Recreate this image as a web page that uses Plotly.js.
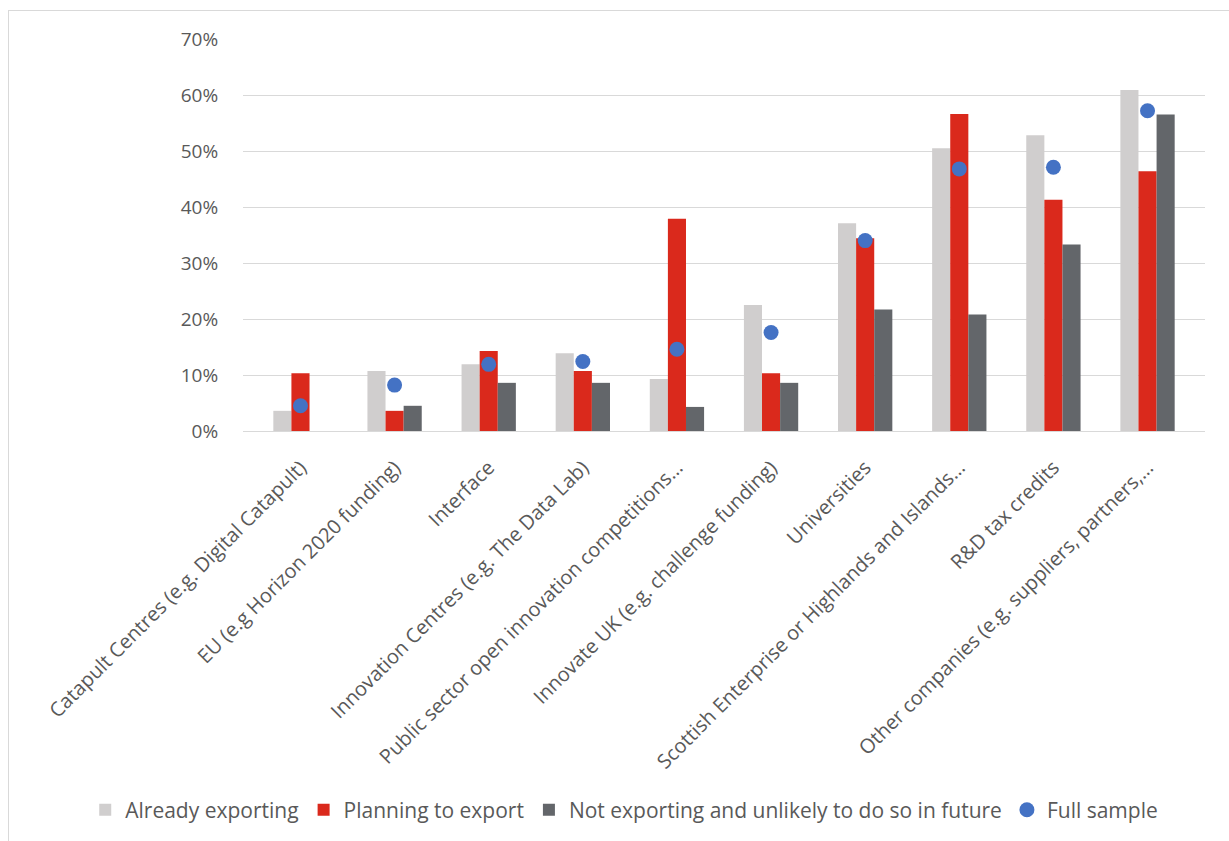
<!DOCTYPE html>
<html>
<head>
<meta charset="utf-8">
<script src="https://cdn.plot.ly/plotly-3.0.1.min.js"></script>
<style>
  html, body { margin: 0; padding: 0; background: #ffffff; }
  #frame { position: absolute; left: 8px; top: 10px; width: 1300px; height: 900px;
           border-top: 1px solid #d9d9d9; border-left: 1px solid #d9d9d9; }
  #chart { position: absolute; left: 0; top: 0; width: 1229px; height: 841px; }
</style>
</head>
<body>
<div id="frame"></div>
<div id="chart"></div>
<script>
const categories = [
  "Catapult Centres (e.g. Digital Catapult)",
  "EU (e.g Horizon 2020 funding)",
  "Interface",
  "Innovation Centres (e.g. The Data Lab)",
  "Public sector open innovation competitions…",
  "Innovate UK (e.g. challenge funding)",
  "Universities",
  "Scottish Enterprise or Highlands and Islands…",
  "R&D tax credits",
  "Other companies (e.g. suppliers, partners,…"
];
const alreadyExporting = [0.036, 0.107, 0.119, 0.139, 0.093, 0.225, 0.371, 0.505, 0.528, 0.609];
const planningToExport = [0.103, 0.036, 0.143, 0.107, 0.379, 0.103, 0.344, 0.566, 0.413, 0.464];
const notExporting     = [0.000, 0.045, 0.086, 0.086, 0.043, 0.086, 0.217, 0.208, 0.333, 0.565];
const fullSample       = [0.045, 0.082, 0.119, 0.124, 0.146, 0.176, 0.340, 0.468, 0.471, 0.572];
const seriesNames = ["Already exporting", "Planning to export",
  "Not exporting and unlikely to do so in future", "Full sample"];

const FONT = "Open Sans, sans-serif";
const TXT = "#595959";

const traces = [
  { type: "bar", name: seriesNames[0], x: categories, y: alreadyExporting,
    marker: { color: "#d0cece" }, hoverinfo: "y" },
  { type: "bar", name: seriesNames[1], x: categories, y: planningToExport,
    marker: { color: "#da291c" }, hoverinfo: "y" },
  { type: "bar", name: seriesNames[2], x: categories, y: notExporting,
    marker: { color: "#63666a" }, hoverinfo: "y" },
  { type: "scatter", mode: "markers", name: seriesNames[3], x: categories, y: fullSample,
    marker: { color: "#4472c4", size: 15 }, hoverinfo: "y" }
];

const layout = {
  width: 1229, height: 841,
  paper_bgcolor: "rgba(0,0,0,0)", plot_bgcolor: "rgba(0,0,0,0)",
  margin: { l: 243, r: 24, t: 39, b: 409 },
  font: { family: FONT, color: TXT, size: 19 },
  barmode: "group", bargap: 0.423, bargroupgap: 0,
  showlegend: true,
  legend: { orientation: "h", x: -0.164, xanchor: "left", y: -0.962, yanchor: "middle",
            font: { family: FONT, size: 21, color: TXT }, traceorder: "normal",
            itemwidth: 30 },
  xaxis: { type: "category", tickangle: -45, showgrid: false, zeroline: false,
           showline: true, linecolor: "#d9d9d9", linewidth: 1,
           ticks: "outside", ticklen: 16, tickcolor: "rgba(0,0,0,0)",
           tickfont: { family: FONT, size: 20, color: TXT } },
  yaxis: { range: [0, 0.7], dtick: 0.1, tickformat: ".0%", showgrid: true,
           gridcolor: "#d9d9d9", gridwidth: 1, zeroline: false, showline: false,
           ticks: "outside", ticklen: 20, tickcolor: "rgba(0,0,0,0)",
           tickfont: { family: FONT, size: 19, color: TXT } }
};

Plotly.newPlot("chart", traces, layout, { displayModeBar: false, staticPlot: true });
</script>
</body>
</html>
